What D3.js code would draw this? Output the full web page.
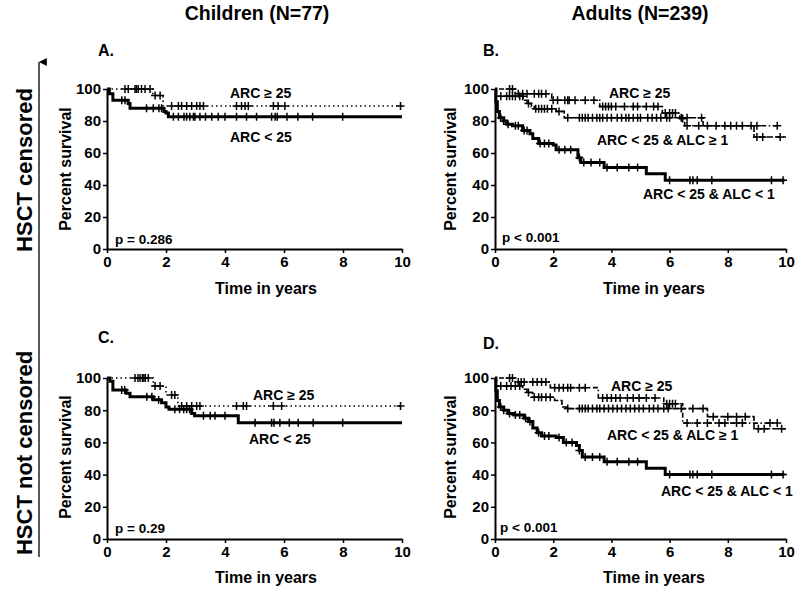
<!DOCTYPE html>
<html><head><meta charset="utf-8">
<script src="https://cdn.jsdelivr.net/npm/d3@7"></script>
<style>
body{margin:0;background:#fff;}
svg{display:block;font-family:"Liberation Sans",Arial,sans-serif;font-weight:bold;}
</style></head>
<body><svg id="c" width="800" height="591"></svg>
<script>
// ---------- data ----------
const xTicks = [0, 2, 4, 6, 8, 10];
const yTicks = [0, 20, 40, 60, 80, 100];
const columnTitles = ["Children (N=77)", "Adults (N=239)"];
const rowTitles = ["HSCT censored", "HSCT not censored"];
const panelLetters = ["A.", "B.", "C.", "D."];
const pValues = ["p = 0.286", "p < 0.001", "p = 0.29", "p < 0.001"];
const seriesNames = ["ARC \u2265 25", "ARC < 25", "ARC < 25 & ALC \u2265 1", "ARC < 25 & ALC < 1"];

// Panel A (children, HSCT censored)
const aHighSteps = [[0,100],[1.55,96],[1.9,89.4]];
const aHighEnd = 10;
const aHighCensor = [0.61,0.72,0.95,1.0,1.06,1.17,1.29,1.46,1.63,1.8,2.19,2.42,2.53,2.7,2.87,3.04,3.15,3.27,4.39,4.56,4.68,4.79,5.64,5.8,6.03,9.95];
const aLowSteps = [[0,100],[0.08,97],[0.2,93],[0.72,91],[0.78,88],[1.93,86],[2.0,85],[2.08,82.7]];
const aLowEnd = 10;
const aLowCensor = [0.5,0.61,1.34,1.57,1.76,1.85,2.25,2.42,2.61,2.7,2.81,2.93,2.98,3.15,3.34,3.55,3.77,4.0,4.39,4.73,5.07,5.58,5.7,5.77,6.1,6.47,6.97,7.99];

// Panel B (adults, HSCT censored)
const bHighSteps = [[0,100],[0.7,97],[1.95,93],[3.6,89],[5.75,85],[6.35,81.5],[6.52,77]];
const bHighEnd = 9.8;
const bHighCensor = [0.5,0.6,0.8,0.95,1.1,1.35,1.5,1.6,1.75,2.0,2.15,2.4,2.5,2.55,2.75,3.1,3.4,3.7,3.8,3.9,4.0,4.15,4.45,4.75,4.9,5.2,5.45,5.6,5.85,6.0,6.1,6.2,6.45,6.6,7.0,7.3,7.6,7.9,8.1,8.3,8.5,8.8,9.0,9.7];
const bMidSteps = [[0,100],[0.05,95.5],[0.97,93],[1.1,91],[1.25,89],[1.35,87.6],[2.1,86],[2.38,82],[7.15,77],[8.9,70]];
const bMidEnd = 10;
const bMidCensor = [0.2,0.4,0.5,0.6,0.7,0.85,0.95,1.15,1.4,1.5,1.6,1.7,1.8,1.95,2.2,2.5,2.9,3.0,3.1,3.2,3.35,3.5,3.6,3.7,3.85,4.0,4.2,4.35,4.5,4.6,4.75,4.9,5.0,5.25,5.4,5.55,5.7,5.9,6.0,6.4,6.6,7.1,9.0,9.2,9.8];
const bLowSteps = [[0,100],[0.03,92],[0.08,86],[0.15,82],[0.3,80],[0.4,78],[0.6,77],[0.95,74],[1.2,72],[1.3,69],[1.5,66],[2.0,65],[2.1,62],[2.85,57],[2.95,54],[3.75,51],[5.2,47],[5.85,43]];
const bLowEnd = 9.95;
const bLowCensor = [0.2,0.3,0.45,0.7,0.8,1.0,1.1,1.55,1.7,1.85,2.2,2.4,2.6,2.9,3.05,3.3,3.6,3.85,4.2,4.6,4.9,6.0,6.7,6.8,6.95,7.45,9.5,9.9];

// Panel C (children, HSCT not censored)
const cHighSteps = [[0,100],[1.57,95],[2.0,89.4],[2.4,82.6]];
const cHighEnd = 10;
const cHighCensor = [0.95,1.05,1.12,1.2,1.25,1.3,1.4,1.63,1.8,2.19,2.3,2.53,2.7,2.87,3.04,3.15,4.39,4.62,4.73,5.64,5.92,9.95];
const cLowSteps = [[0,100],[0.1,98],[0.2,92.5],[0.65,90.5],[0.78,88.4],[1.57,86.5],[1.85,84.7],[2.0,82],[2.1,80.6],[2.87,78],[2.97,76.6],[4.45,72.2]];
const cLowEnd = 10;
const cLowCensor = [0.5,0.6,1.35,1.52,1.75,2.3,2.46,2.6,2.7,2.8,3.27,3.5,3.66,4.0,5.02,5.58,5.66,5.86,6.18,6.48,6.99,7.99];

// Panel D (adults, HSCT not censored)
const dHighSteps = [[0,100],[0.7,97.5],[1.9,94],[3.55,87.6],[5.8,84],[6.45,72]];
const dHighEnd = 9.7;
const dHighCensor = [0.5,0.6,0.8,0.9,1.0,1.3,1.45,1.6,1.75,2.05,2.2,2.35,2.5,2.6,2.9,3.1,3.7,3.85,4.0,4.15,4.3,4.55,4.75,4.95,5.2,5.5,5.9,6.0,6.1,6.2,6.6,6.95,7.3,7.7,7.9,8.3,8.5,9.45,9.7];
const dMidSteps = [[0,100],[0.05,95],[0.95,93],[1.1,91],[1.3,88],[2.05,86],[2.3,82],[2.45,81],[7.3,76],[8.9,68.5]];
const dMidEnd = 10;
const dMidCensor = [0.2,0.4,0.55,0.7,0.85,1.15,1.35,1.5,1.6,1.75,1.9,2.5,2.9,3.0,3.1,3.2,3.35,3.5,3.6,3.75,3.9,4.05,4.2,4.35,4.5,4.65,4.8,4.95,5.1,5.3,5.45,5.6,5.8,5.95,6.4,6.8,7.15,7.5,8.0,8.3,8.6,9.05,9.25,9.85];
const dLowSteps = [[0,100],[0.03,92],[0.08,86],[0.15,82],[0.3,80],[0.45,78],[0.65,77],[1.0,75],[1.15,73],[1.3,69],[1.45,66],[1.6,64],[2.1,63],[2.35,60],[2.8,58],[2.9,55],[3.0,51],[3.75,48],[5.2,44],[5.85,40]];
const dLowEnd = 9.95;
const dLowCensor = [0.2,0.3,0.5,0.7,0.85,1.05,1.2,1.5,1.7,1.85,2.2,2.45,2.65,2.9,3.1,3.35,3.6,3.85,4.2,4.6,4.9,6.0,6.7,6.8,6.95,7.45,9.5,9.9];

// ---------- layout / styles ----------
const STYLE = {
  dotted:  {w:1.6, dash:"1.5,3"},
  dashdot: {w:1.6, dash:"1.5,2.5,5,2.5"},
  dashed:  {w:1.6, dash:"6,2"},
  thick:   {w:3,   dash:null}
};

const panels = [
  {x:[107,402], y:[249,89], letter:[98,50], p:[115,239], time:[266,288], pct:[65,169],
   curves:[{s:aHighSteps,e:aHighEnd,c:aHighCensor,st:"dotted"},{s:aLowSteps,e:aLowEnd,c:aLowCensor,st:"thick"}],
   labels:[[0,230,93],[1,230,137]]},
  {x:[495,786], y:[249,89], letter:[483,50], p:[502,237], time:[654,288], pct:[450,169],
   curves:[{s:bHighSteps,e:bHighEnd,c:bHighCensor,st:"dashdot"},{s:bMidSteps,e:bMidEnd,c:bMidCensor,st:"dashed"},{s:bLowSteps,e:bLowEnd,c:bLowCensor,st:"thick"}],
   labels:[[0,609,93],[2,597,140],[3,643,194]]},
  {x:[107,402], y:[539,378], letter:[98,337], p:[115,528], time:[266,577], pct:[65,457],
   curves:[{s:cHighSteps,e:cHighEnd,c:cHighCensor,st:"dotted"},{s:cLowSteps,e:cLowEnd,c:cLowCensor,st:"thick"}],
   labels:[[0,253,395],[1,249,439]]},
  {x:[495,786], y:[539,378], letter:[483,343], p:[500,527], time:[654,577], pct:[450,457],
   curves:[{s:dHighSteps,e:dHighEnd,c:dHighCensor,st:"dashdot"},{s:dMidSteps,e:dMidEnd,c:dMidCensor,st:"dashed"},{s:dLowSteps,e:dLowEnd,c:dLowCensor,st:"thick"}],
   labels:[[0,611,386],[2,607,435],[3,661,491]]}
];

const svg = d3.select("#c");

// column titles
svg.append("text").attr("x",257).attr("y",20).attr("text-anchor","middle").attr("font-size",19.5).text(columnTitles[0]);
svg.append("text").attr("x",640).attr("y",20).attr("text-anchor","middle").attr("font-size",19.5).text(columnTitles[1]);

// row titles
svg.append("text").attr("transform","translate(24,170) rotate(-90)").attr("text-anchor","middle")
  .attr("dominant-baseline","central").attr("font-size",22).text(rowTitles[0]);
svg.append("text").attr("transform","translate(24,453) rotate(-90)").attr("text-anchor","middle")
  .attr("dominant-baseline","central").attr("font-size",22).text(rowTitles[1]);

// arrow
svg.append("defs").append("marker").attr("id","ah").attr("viewBox","0 0 10 10").attr("refX",5).attr("refY",0)
  .attr("markerWidth",6).attr("markerHeight",6).attr("orient","auto-start-reverse")
  .append("path").attr("d","M0,10 L5,0 L10,10 Z").attr("fill","#000");
svg.append("line").attr("x1",39).attr("x2",39).attr("y1",557).attr("y2",62)
  .attr("stroke","#000").attr("stroke-width",1.3).attr("marker-end","url(#ah)");

function valueAt(steps, t){
  let v = steps[0][1];
  for (const [tt, vv] of steps) { if (tt <= t) v = vv; }
  return v;
}

panels.forEach((p, i) => {
  const x = d3.scaleLinear().domain([0,10]).range(p.x);
  const y = d3.scaleLinear().domain([0,100]).range(p.y);
  const g = svg.append("g");

  // axes
  const ya = g.append("g").attr("transform",`translate(${p.x[0]},0)`)
    .call(d3.axisLeft(y).tickValues(yTicks).tickSize(4).tickPadding(2).tickSizeOuter(0));
  const xa = g.append("g").attr("transform",`translate(0,${p.y[0]})`)
    .call(d3.axisBottom(x).tickValues(xTicks).tickSize(4).tickPadding(3).tickSizeOuter(0));
  [ya, xa].forEach(a => {
    a.select(".domain").attr("stroke","#000").attr("stroke-width",2);
    a.selectAll(".tick line").attr("stroke","#000").attr("stroke-width",1.5);
    a.selectAll(".tick text").attr("font-size",15).attr("font-family","Liberation Sans, Arial, sans-serif")
      .attr("font-weight","bold").attr("fill","#000");
  });

  // curves
  const line = d3.line().x(d => x(d[0])).y(d => y(d[1])).curve(d3.curveStepAfter);
  p.curves.forEach(cv => {
    const st = STYLE[cv.st];
    const pts = cv.s.concat([[cv.e, cv.s[cv.s.length-1][1]]]);
    g.append("path").attr("d", line(pts)).attr("fill","none").attr("stroke","#000")
      .attr("stroke-width", st.w).attr("stroke-dasharray", st.dash);
    const ms = 4;
    g.selectAll(null).data(cv.c).enter().append("path")
      .attr("transform", d => `translate(${x(d)},${y(valueAt(cv.s, d))})`)
      .attr("d", `M${-ms},0H${ms}M0,${-ms}V${ms}`)
      .attr("stroke","#000").attr("stroke-width", 1.5).attr("fill","none");
  });

  // texts
  g.append("text").attr("x",p.letter[0]).attr("y",p.letter[1]).attr("dominant-baseline","central")
    .attr("font-size",16).text(panelLetters[i]);
  g.append("text").attr("x",p.p[0]).attr("y",p.p[1]).attr("dominant-baseline","central")
    .attr("font-size",13.5).text(pValues[i]);
  g.append("text").attr("x",p.time[0]).attr("y",p.time[1]).attr("dominant-baseline","central")
    .attr("text-anchor","middle").attr("font-size",16).text("Time in years");
  g.append("text").attr("transform",`translate(${p.pct[0]},${p.pct[1]}) rotate(-90)`)
    .attr("dominant-baseline","central").attr("text-anchor","middle").attr("font-size",16).text("Percent survival");
  p.labels.forEach(([k, lx, ly]) => {
    g.append("text").attr("x",lx).attr("y",ly).attr("dominant-baseline","central")
      .attr("font-size",14).text(seriesNames[k]);
  });
});
</script></body></html>
